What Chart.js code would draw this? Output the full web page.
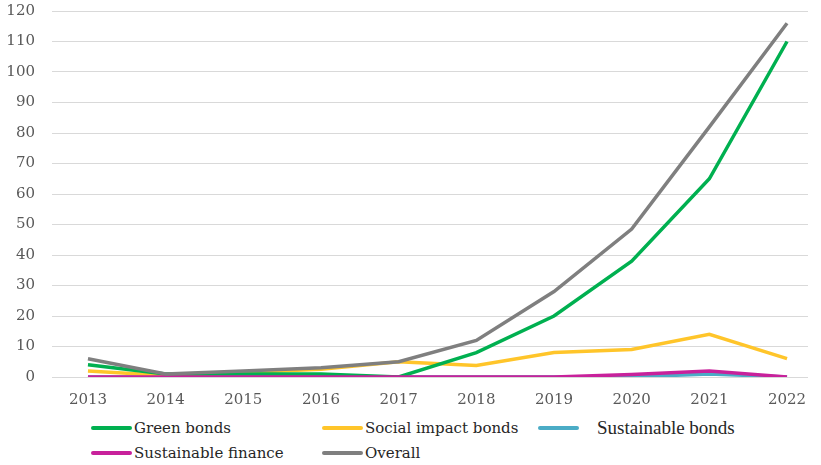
<!DOCTYPE html>
<html>
<head>
<meta charset="utf-8">
<script src="https://cdn.jsdelivr.net/npm/chart.js@4"></script>
<style>
  html, body { margin: 0; padding: 0; background: #fff; }
  #wrap { position: relative; width: 821px; height: 465px; overflow: hidden; }
  #chartBox { position: absolute; left: 0; top: -15px; width: 821px; height: 422px; }
  #legend {
    position: absolute; left: 91px; top: 417px;
    display: grid; grid-template-columns: 231px 216px auto; row-gap: 3px;
    font-family: "DejaVu Serif", serif; font-size: 15px; color: #262626;
  }
  .item { display: flex; align-items: center; height: 22px; white-space: nowrap; }
  .swatch { width: 41px; height: 4px; border-radius: 2px; margin-right: 2px; }
</style>
</head>
<body>
<div id="wrap">
  <div id="chartBox"><canvas id="trendChart"></canvas></div>
  <div id="legend"></div>
</div>
<script>
// Data
const years = [2013, 2014, 2015, 2016, 2017, 2018, 2019, 2020, 2021, 2022];
const greenBonds = [4, 1, 1, 1, 0, 8, 20, 38, 65, 110];
const socialImpactBonds = [2, 0.5, 1.5, 2.5, 5, 3.8, 8, 9, 14, 6];
const sustainableBonds = [0, 0, 0, 0, 0, 0, 0, 0, 1, 0];
const sustainableFinance = [0, 0, 0, 0, 0, 0, 0, 0.8, 2, 0];
const overall = [6, 1, 2, 3, 5, 12, 28, 48.5, 82, 116];
const yTicks = [0, 10, 20, 30, 40, 50, 60, 70, 80, 90, 100, 110, 120];

const series = [
  { label: 'Green bonds', data: greenBonds, color: '#00b050', order: 2 },
  { label: 'Social impact bonds', data: socialImpactBonds, color: '#ffc52a', order: 3 },
  { label: 'Sustainable bonds', data: sustainableBonds, color: '#4bacc6', order: 4 },
  { label: 'Sustainable finance', data: sustainableFinance, color: '#c8219b', order: 1 },
  { label: 'Overall', data: overall, color: '#7f7f7f', order: 0 }
];

document.addEventListener("DOMContentLoaded", () => {
  const ctx = document.getElementById("trendChart").getContext("2d");

  const chart = new Chart(ctx, {
    type: 'line',
    data: {
      datasets: series.map(s => ({
        label: s.label,
        data: s.data.map((v, i) => ({ x: years[i], y: v })),
        borderColor: s.color,
        backgroundColor: s.color,
        borderWidth: 3.5,
        pointRadius: 0,
        tension: 0,
        order: s.order
      }))
    },
    options: {
      responsive: true,
      maintainAspectRatio: false,
      animation: false,
      layout: { padding: { left: 0, right: 13, top: 0, bottom: 0 } },
      scales: {
        x: {
          type: 'linear',
          min: 2012.537,
          max: 2022.27,
          afterBuildTicks: axis => { axis.ticks = years.map(v => ({ value: v })); },
          afterFit: axis => { axis.height = 30; },
          grid: { display: false, drawTicks: false },
          border: { display: false },
          ticks: {
            autoSkip: false,
            maxRotation: 0,
            padding: 14,
            color: '#595959',
            font: { family: 'DejaVu Serif', size: 15 },
            callback: v => String(v)
          }
        },
        y: {
          min: 0,
          max: 120,
          afterBuildTicks: axis => { axis.ticks = yTicks.map(v => ({ value: v })); },
          afterFit: axis => { axis.width = 52; },
          grid: { color: '#d9d9d9', lineWidth: 1, drawTicks: false },
          border: { display: false },
          ticks: {
            padding: 17,
            color: '#595959',
            font: { family: 'DejaVu Serif', size: 15 }
          }
        }
      },
      plugins: {
        legend: { display: false },
        tooltip: { enabled: false }
      }
    }
  });

  // Legend built from the chart's datasets
  const legend = document.getElementById("legend");
  chart.data.datasets.forEach(ds => {
    const item = document.createElement('div');
    item.className = 'item';
    const sw = document.createElement('span');
    sw.className = 'swatch';
    sw.style.background = ds.borderColor;
    const txt = document.createElement('span');
    txt.textContent = ds.label;
    if (ds.label === 'Sustainable bonds') {
      sw.style.marginRight = '18px';
      txt.style.fontFamily = '"Liberation Serif", serif';
      txt.style.fontSize = '19px';
    }
    item.appendChild(sw);
    item.appendChild(txt);
    legend.appendChild(item);
  });
});
</script>
</body>
</html>
